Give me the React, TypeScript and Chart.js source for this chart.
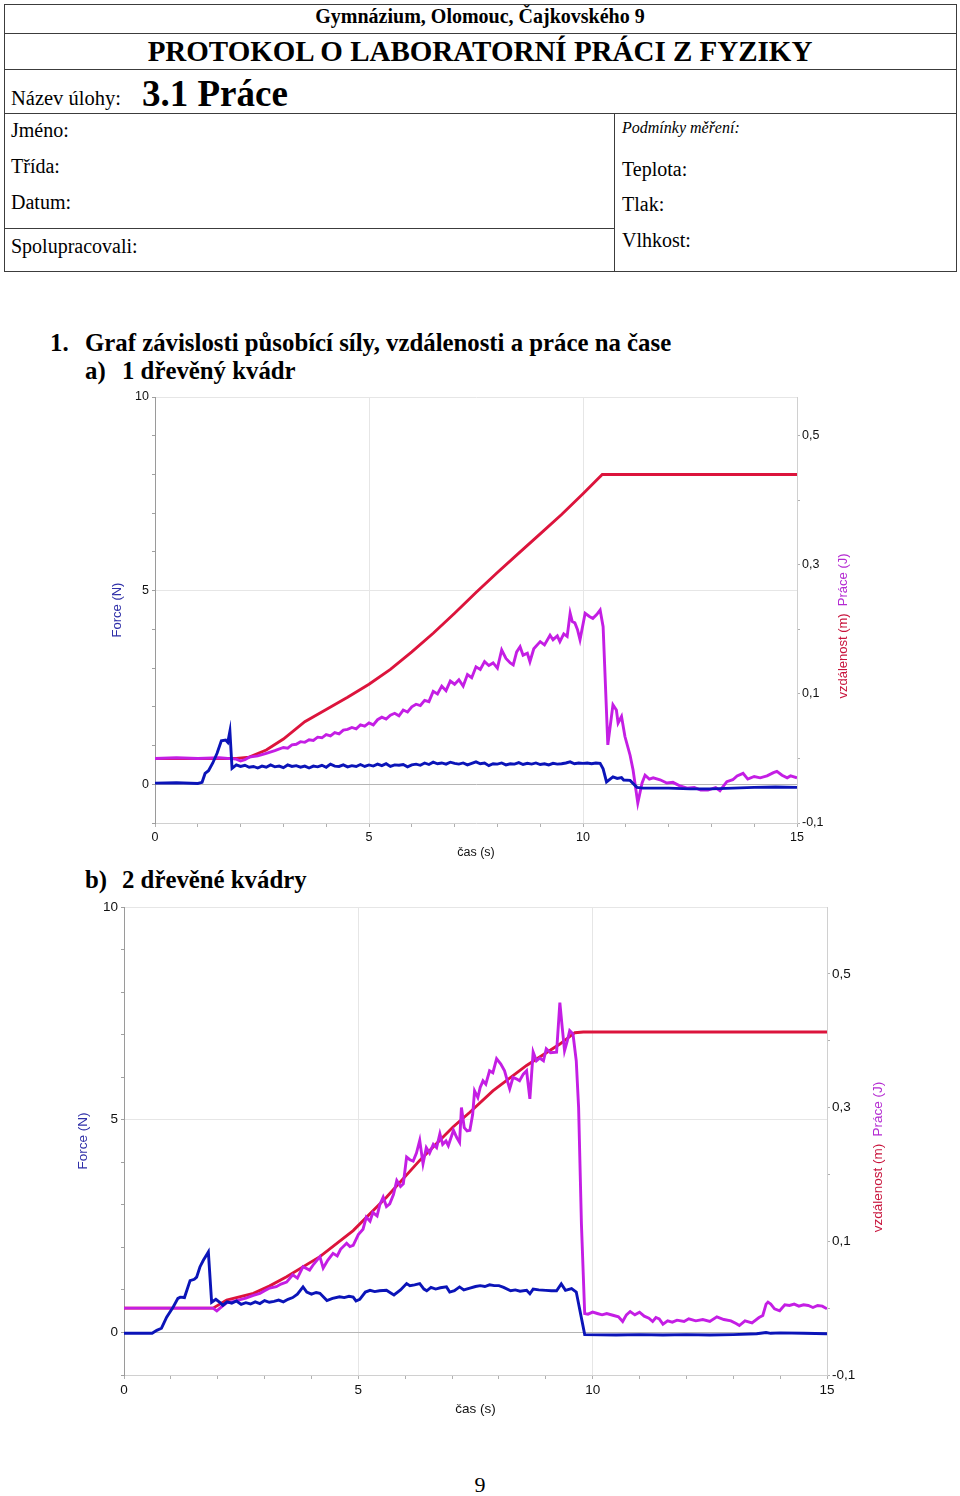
import React, { useEffect, useRef } from "react";
import { Chart, registerables } from "chart.js";

Chart.register(...registerables);
Chart.defaults.font.family = '"Liberation Sans", Arial, sans-serif';

type Pt = [number, number];

// ---- axis ticks ----
const TIME_TICKS = [0, 1, 2, 3, 4, 5, 6, 7, 8, 9, 10, 11, 12, 13, 14, 15];
const TIME_LABELED = [0, 5, 10, 15];
const FORCE_TICKS = [-1, 0, 1, 2, 3, 4, 5, 6, 7, 8, 9, 10];
const FORCE_LABELED = [0, 5, 10];
const RIGHT_TICKS = [-0.1, 0, 0.1, 0.2, 0.3, 0.4, 0.5];
const RIGHT_LABELS = ["-0,1", "", "0,1", "", "0,3", "", "0,5"];

// ---- chart a) 1 dřevěný kvádr ----
const A_FORCE: Pt[] = [
  [0, 0.03], [0.5, 0.04], [1.0, 0.02], [1.1, 0.05], [1.17, 0.28], [1.25, 0.35], [1.35, 0.55], [1.45, 0.8],
  [1.55, 1.12], [1.65, 1.14], [1.7, 1.08], [1.75, 1.37], [1.8, 0.41], [1.9, 0.5], [2.0, 0.46], [2.1, 0.49],
  [2.2, 0.44], [2.3, 0.46], [2.4, 0.42], [2.5, 0.47], [2.6, 0.44], [2.7, 0.5], [2.8, 0.45], [2.9, 0.47],
  [3.0, 0.43], [3.1, 0.5], [3.2, 0.46], [3.3, 0.48], [3.4, 0.44], [3.5, 0.47], [3.6, 0.42], [3.7, 0.47],
  [3.8, 0.45], [3.9, 0.49], [4.0, 0.44], [4.1, 0.52], [4.2, 0.47], [4.3, 0.46], [4.4, 0.5], [4.5, 0.45],
  [4.6, 0.48], [4.7, 0.46], [4.8, 0.51], [4.9, 0.46], [5.0, 0.5], [5.1, 0.47], [5.2, 0.52], [5.3, 0.48],
  [5.4, 0.53], [5.5, 0.46], [5.6, 0.5], [5.7, 0.49], [5.8, 0.51], [5.9, 0.45], [6.0, 0.5], [6.1, 0.52],
  [6.2, 0.49], [6.3, 0.55], [6.4, 0.51], [6.5, 0.57], [6.6, 0.53], [6.7, 0.55], [6.8, 0.52], [6.9, 0.57],
  [7.0, 0.54], [7.1, 0.52], [7.2, 0.55], [7.3, 0.5], [7.4, 0.54], [7.5, 0.58], [7.6, 0.53], [7.7, 0.55],
  [7.8, 0.48], [7.9, 0.53], [8.0, 0.52], [8.1, 0.55], [8.2, 0.5], [8.3, 0.53], [8.4, 0.52], [8.5, 0.56],
  [8.6, 0.51], [8.7, 0.54], [8.8, 0.52], [8.9, 0.55], [9.0, 0.51], [9.1, 0.53], [9.2, 0.5], [9.3, 0.54],
  [9.4, 0.52], [9.5, 0.53], [9.6, 0.55], [9.7, 0.58], [9.8, 0.53], [9.9, 0.55], [10.0, 0.54], [10.1, 0.55],
  [10.2, 0.53], [10.3, 0.55], [10.4, 0.54], [10.47, 0.4], [10.55, 0.06], [10.7, 0.19], [10.8, 0.15],
  [10.9, 0.17], [10.95, 0.11], [11.1, 0.1], [11.26, -0.08], [11.4, -0.1], [12.0, -0.1], [12.5, -0.12],
  [13.0, -0.12], [13.5, -0.1], [14.0, -0.08], [14.5, -0.07], [15.0, -0.08],
];

const A_DIST: Pt[] = [
  [0, 0], [1.9, 0], [2.2, 0.002], [2.6, 0.013], [3.0, 0.03], [3.5, 0.057], [4.0, 0.076], [4.5, 0.095],
  [5.0, 0.115], [5.5, 0.138], [6.0, 0.165], [6.5, 0.194], [7.0, 0.225], [7.5, 0.257], [8.0, 0.288],
  [8.5, 0.318], [9.0, 0.348], [9.5, 0.378], [10.0, 0.41], [10.45, 0.44], [15, 0.44],
];

const A_WORK: Pt[] = [
  [0, 0], [0.5, 0.001], [1.0, 0], [1.5, 0.001], [1.9, -0.001], [2.0, -0.004], [2.1, -0.002], [2.2, 0.002],
  [2.4, 0.004], [2.6, 0.008], [2.8, 0.012], [3.0, 0.017], [3.1, 0.016], [3.2, 0.021], [3.3, 0.022],
  [3.4, 0.026], [3.5, 0.025], [3.6, 0.029], [3.7, 0.028], [3.8, 0.033], [3.9, 0.032], [4.0, 0.037],
  [4.1, 0.035], [4.2, 0.04], [4.3, 0.038], [4.4, 0.044], [4.5, 0.045], [4.6, 0.048], [4.7, 0.046],
  [4.8, 0.052], [4.9, 0.05], [5.0, 0.055], [5.1, 0.052], [5.2, 0.06], [5.3, 0.064], [5.4, 0.061],
  [5.5, 0.067], [5.6, 0.07], [5.7, 0.066], [5.8, 0.075], [5.9, 0.072], [6.0, 0.08], [6.1, 0.084],
  [6.2, 0.082], [6.3, 0.09], [6.4, 0.088], [6.5, 0.104], [6.6, 0.1], [6.7, 0.112], [6.8, 0.105],
  [6.9, 0.12], [7.0, 0.115], [7.1, 0.122], [7.2, 0.112], [7.3, 0.13], [7.4, 0.125], [7.5, 0.142],
  [7.6, 0.138], [7.7, 0.15], [7.8, 0.144], [7.9, 0.148], [8.0, 0.14], [8.1, 0.168], [8.2, 0.155],
  [8.3, 0.148], [8.37, 0.145], [8.45, 0.165], [8.53, 0.173], [8.6, 0.16], [8.7, 0.163], [8.76, 0.15],
  [8.85, 0.17], [9.0, 0.181], [9.1, 0.176], [9.23, 0.191], [9.3, 0.184], [9.4, 0.19], [9.46, 0.181],
  [9.55, 0.193], [9.63, 0.189], [9.7, 0.225], [9.75, 0.212], [9.81, 0.21], [9.87, 0.2], [9.93, 0.184],
  [10.05, 0.225], [10.15, 0.22], [10.23, 0.217], [10.32, 0.223], [10.4, 0.23], [10.47, 0.204],
  [10.58, 0.021], [10.7, 0.083], [10.78, 0.075], [10.82, 0.055], [10.9, 0.065], [10.98, 0.034],
  [11.1, 0.005], [11.17, -0.018], [11.28, -0.069], [11.38, -0.038], [11.45, -0.026], [11.55, -0.032],
  [11.64, -0.03], [11.8, -0.033], [11.96, -0.038], [12.1, -0.037], [12.25, -0.042], [12.43, -0.046],
  [12.6, -0.045], [12.75, -0.049], [12.92, -0.049], [13.1, -0.045], [13.2, -0.05], [13.36, -0.036],
  [13.5, -0.033], [13.6, -0.027], [13.74, -0.023], [13.85, -0.032], [14.0, -0.028], [14.14, -0.03],
  [14.3, -0.027], [14.45, -0.022], [14.53, -0.02], [14.65, -0.026], [14.77, -0.03], [14.85, -0.027],
  [15.0, -0.03],
];

// ---- chart b) 2 dřevěné kvádry ----
const B_FORCE: Pt[] = [
  [0, -0.02], [0.6, -0.02], [0.7, 0.05], [0.8, 0.1], [0.91, 0.36], [1.05, 0.6], [1.15, 0.8], [1.2, 0.83],
  [1.29, 0.82], [1.41, 1.22], [1.5, 1.25], [1.55, 1.3], [1.62, 1.54], [1.69, 1.69], [1.8, 1.89],
  [1.87, 0.71], [1.96, 0.78], [2.05, 0.7], [2.11, 0.64], [2.2, 0.72], [2.3, 0.69], [2.4, 0.74],
  [2.5, 0.66], [2.6, 0.7], [2.7, 0.67], [2.8, 0.72], [2.9, 0.68], [3.0, 0.75], [3.1, 0.71], [3.2, 0.73],
  [3.3, 0.76], [3.4, 0.72], [3.5, 0.78], [3.6, 0.82], [3.7, 0.9], [3.82, 1.07], [3.9, 0.95], [4.0, 0.9],
  [4.1, 0.94], [4.18, 0.92], [4.33, 0.75], [4.45, 0.8], [4.6, 0.84], [4.7, 0.82], [4.8, 0.85],
  [4.89, 0.83], [4.95, 0.74], [5.03, 0.78], [5.15, 0.95], [5.25, 0.99], [5.35, 0.96], [5.45, 0.98],
  [5.6, 0.99], [5.7, 0.92], [5.76, 0.88], [5.9, 1.0], [6.03, 1.15], [6.1, 1.1], [6.2, 1.12], [6.31, 1.15],
  [6.4, 1.02], [6.46, 0.98], [6.55, 1.06], [6.65, 1.02], [6.75, 1.05], [6.88, 1.07], [6.95, 0.95],
  [7.05, 0.98], [7.16, 1.07], [7.25, 1.0], [7.38, 1.04], [7.5, 1.08], [7.6, 1.1], [7.7, 1.08], [7.8, 1.12],
  [7.9, 1.1], [8.0, 1.1], [8.1, 1.06], [8.25, 0.98], [8.35, 1.0], [8.45, 0.97], [8.59, 0.99], [8.66, 0.91],
  [8.73, 1.02], [8.85, 1.0], [9.0, 0.99], [9.12, 0.98], [9.23, 0.98], [9.33, 1.14], [9.42, 0.99],
  [9.55, 1.03], [9.65, 0.95], [9.83, -0.05], [10.5, -0.06], [11.0, -0.05], [11.5, -0.06], [12.0, -0.05],
  [12.5, -0.06], [13.0, -0.05], [13.5, -0.03], [13.7, 0.0], [13.8, -0.02], [14.0, -0.01], [14.5, -0.02],
  [15, -0.03],
];

const B_DIST: Pt[] = [
  [0, 0], [1.9, 0], [2.19, 0.012], [2.76, 0.022], [3.1, 0.033], [3.47, 0.047], [4.18, 0.077],
  [4.89, 0.116], [5.6, 0.166], [6.31, 0.221], [7.02, 0.271], [7.38, 0.293], [7.87, 0.325], [8.59, 0.363],
  [9.3, 0.395], [9.62, 0.412], [9.8, 0.413], [15, 0.413],
];

const B_WORK: Pt[] = [
  [0, 0], [1.9, 0], [1.98, -0.004], [2.1, 0.003], [2.19, 0.008], [2.35, 0.01], [2.5, 0.013], [2.6, 0.015],
  [2.76, 0.019], [2.9, 0.022], [3.0, 0.026], [3.11, 0.03], [3.25, 0.032], [3.35, 0.036], [3.47, 0.039],
  [3.6, 0.05], [3.7, 0.045], [3.82, 0.062], [3.96, 0.057], [4.05, 0.066], [4.18, 0.077], [4.25, 0.06],
  [4.35, 0.072], [4.46, 0.082], [4.55, 0.078], [4.62, 0.088], [4.75, 0.097], [4.82, 0.092], [4.89, 0.094],
  [5.0, 0.11], [5.1, 0.118], [5.17, 0.136], [5.25, 0.13], [5.31, 0.143], [5.4, 0.138], [5.46, 0.155],
  [5.53, 0.166], [5.6, 0.152], [5.67, 0.156], [5.75, 0.17], [5.82, 0.191], [5.9, 0.182], [5.96, 0.186],
  [6.03, 0.226], [6.1, 0.222], [6.17, 0.22], [6.24, 0.232], [6.31, 0.251], [6.38, 0.216], [6.45, 0.24],
  [6.52, 0.232], [6.6, 0.245], [6.67, 0.24], [6.74, 0.261], [6.8, 0.245], [6.87, 0.25], [6.92, 0.243],
  [7.03, 0.266], [7.1, 0.255], [7.16, 0.248], [7.2, 0.3], [7.26, 0.27], [7.32, 0.265], [7.38, 0.266],
  [7.44, 0.29], [7.48, 0.325], [7.55, 0.315], [7.6, 0.33], [7.66, 0.34], [7.72, 0.335], [7.8, 0.355],
  [7.87, 0.352], [7.95, 0.373], [8.04, 0.365], [8.12, 0.355], [8.18, 0.34], [8.23, 0.328], [8.3, 0.345],
  [8.37, 0.343], [8.44, 0.34], [8.52, 0.35], [8.59, 0.355], [8.66, 0.313], [8.73, 0.383], [8.8, 0.37],
  [8.87, 0.374], [8.95, 0.37], [9.01, 0.388], [9.1, 0.382], [9.23, 0.383], [9.3, 0.457], [9.35, 0.42],
  [9.4, 0.385], [9.46, 0.4], [9.51, 0.415], [9.58, 0.41], [9.65, 0.37], [9.7, 0.3], [9.76, 0.126],
  [9.83, -0.008], [9.9, -0.009], [10.0, -0.006], [10.1, -0.008], [10.2, -0.01], [10.3, -0.008],
  [10.45, -0.011], [10.55, -0.013], [10.64, -0.02], [10.72, -0.01], [10.8, -0.005], [10.9, -0.01],
  [11.0, -0.006], [11.1, -0.012], [11.2, -0.015], [11.28, -0.02], [11.35, -0.014], [11.42, -0.016],
  [11.5, -0.024], [11.6, -0.019], [11.7, -0.021], [11.8, -0.018], [11.95, -0.02], [12.05, -0.016],
  [12.2, -0.019], [12.35, -0.017], [12.5, -0.02], [12.65, -0.013], [12.8, -0.017], [12.95, -0.019],
  [13.06, -0.023], [13.13, -0.026], [13.25, -0.019], [13.4, -0.022], [13.55, -0.014], [13.63, -0.011],
  [13.7, 0.006], [13.74, 0.009], [13.8, 0.006], [13.88, -0.001], [13.99, -0.004], [14.1, 0.005],
  [14.2, 0.004], [14.3, 0.006], [14.4, 0.003], [14.5, 0.005], [14.6, 0.004], [14.7, 0.001], [14.8, 0.004],
  [14.9, 0.003], [15, -0.001],
];

const BLUE = "#0b14b8";
const RED = "#dc143c";
const PURPLE = "#c41ee4";

const rightTitlePlugin = {
  id: "rightTitle",
  afterDraw(chart: any, _args: any, opts: any) {
    const { ctx, chartArea } = chart;
    ctx.save();
    ctx.font = `${opts.size}px "Liberation Sans", Arial, sans-serif`;
    const parts = opts.parts as { text: string; color: string }[];
    const widths = parts.map((p) => ctx.measureText(p.text).width);
    const gap = opts.gap;
    const total = widths.reduce((a: number, b: number) => a + b, 0) + gap * (parts.length - 1);
    ctx.translate(chartArea.right + opts.dx, (chartArea.top + chartArea.bottom) / 2 + opts.dy);
    ctx.rotate(-Math.PI / 2);
    ctx.textBaseline = "middle";
    ctx.textAlign = "left";
    let x = -total / 2;
    parts.forEach((p, i) => {
      ctx.fillStyle = p.color;
      ctx.fillText(p.text, x, 0);
      x += widths[i] + gap;
    });
    ctx.restore();
  },
};

type Cfg = {
  force: Pt[];
  dist: Pt[];
  work: Pt[];
  rightMax: number;
  leftW: number;
  rightW: number;
  bottomH: number;
  padTop: number;
  tickSize: number;
  titleSize: number;
  xTitleSize: number;
  forceTitlePad: number;
  xTitlePad: number;
  rtDx: number;
  rtDy: number;
};

function buildConfig(c: Cfg): any {
  const toXY = (arr: Pt[]) => arr.map(([x, y]) => ({ x, y }));
  const line = (data: Pt[], color: string, axis: string) => ({
    data: toXY(data),
    yAxisID: axis,
    borderColor: color,
    borderWidth: 2.9,
    pointRadius: 0,
    tension: 0,
    fill: false,
  });
  return {
    type: "line",
    data: {
      datasets: [
        line(c.force, BLUE, "y"),
        line(c.work, PURPLE, "yR"),
        line(c.dist, RED, "yR"),
      ],
    },
    plugins: [rightTitlePlugin],
    options: {
      animation: false,
      responsive: false,
      events: [],
      layout: { padding: { top: c.padTop, left: 0, right: 0, bottom: 0 } },
      plugins: {
        legend: { display: false },
        tooltip: { enabled: false },
        rightTitle: {
          size: c.titleSize,
          gap: c.titleSize * 0.55,
          dx: c.rtDx,
          dy: c.rtDy,
          parts: [
            { text: "vzdálenost (m)", color: "#c8143c" },
            { text: "Práce (J)", color: "#b42ad2" },
          ],
        },
      },
      scales: {
        x: {
          type: "linear",
          min: 0,
          max: 15,
          afterBuildTicks: (s: any) => {
            s.ticks = TIME_TICKS.map((v) => ({ value: v }));
          },
          afterFit: (s: any) => {
            s.height = c.bottomH;
          },
          ticks: {
            autoSkip: false,
            maxRotation: 0,
            padding: 3,
            color: "#111",
            font: { size: c.tickSize },
            callback: (v: number) => (TIME_LABELED.includes(v) ? String(v) : ""),
          },
          grid: {
            color: (ctx: any) =>
              ctx.tick && (ctx.tick.value === 5 || ctx.tick.value === 10) ? "#e6e6e6" : "rgba(0,0,0,0)",
            tickColor: "#b0b0b0",
            tickLength: 4,
            lineWidth: 1,
          },
          border: { color: "#d0d0d0", width: 1 },
          title: {
            display: true,
            text: "čas (s)",
            color: "#111",
            font: { size: c.xTitleSize },
            padding: { top: 0, bottom: c.xTitlePad },
          },
        },
        y: {
          type: "linear",
          position: "left",
          min: -1,
          max: 10,
          afterBuildTicks: (s: any) => {
            s.ticks = FORCE_TICKS.map((v) => ({ value: v }));
          },
          afterFit: (s: any) => {
            s.width = c.leftW;
          },
          ticks: {
            autoSkip: false,
            padding: 3,
            color: "#111",
            font: { size: c.tickSize },
            callback: (v: number) => (FORCE_LABELED.includes(v) ? String(v) : ""),
          },
          grid: {
            color: (ctx: any) => {
              if (!ctx.tick) return "rgba(0,0,0,0)";
              const v = ctx.tick.value;
              if (v === 0) return "#b4b4b4";
              if (v === 5 || v === 10) return "#e6e6e6";
              return "rgba(0,0,0,0)";
            },
            tickColor: "#a0a0a0",
            tickLength: 3,
          },
          border: { color: "#9a9a9a", width: 1 },
          title: {
            display: true,
            text: "Force (N)",
            color: "#2f2fa8",
            font: { size: c.titleSize },
            padding: { top: c.forceTitlePad, bottom: 0 },
          },
        },
        yR: {
          type: "linear",
          position: "right",
          min: -0.1,
          max: c.rightMax,
          afterBuildTicks: (s: any) => {
            s.ticks = RIGHT_TICKS.map((v) => ({ value: v }));
          },
          afterFit: (s: any) => {
            s.width = c.rightW;
          },
          ticks: {
            autoSkip: false,
            padding: 2,
            color: "#111",
            font: { size: c.tickSize },
            callback: (_v: number, i: number) => RIGHT_LABELS[i] ?? "",
          },
          grid: {
            drawOnChartArea: false,
            tickColor: "#b0b0b0",
            tickLength: 3,
          },
          border: { color: "#d0d0d0", width: 1 },
        },
      },
    },
  };
}

function ChartCanvas(props: { cfg: Cfg; left: number; top: number; width: number; height: number }) {
  const ref = useRef<HTMLCanvasElement | null>(null);
  useEffect(() => {
    if (!ref.current) return;
    const chart = new Chart(ref.current, buildConfig(props.cfg));
    return () => chart.destroy();
  }, []);
  return (
    <canvas
      ref={ref}
      width={props.width}
      height={props.height}
      style={{ position: "absolute", left: props.left, top: props.top, width: props.width, height: props.height }}
    />
  );
}

const CFG_A: Cfg = {
  force: A_FORCE,
  dist: A_DIST,
  work: A_WORK,
  rightMax: 0.56,
  leftW: 59,
  rightW: 73,
  bottomH: 47,
  padTop: 12,
  tickSize: 12.5,
  titleSize: 13,
  xTitleSize: 12.5,
  forceTitlePad: 14,
  xTitlePad: 10,
  rtDx: 46,
  rtDy: 16,
};

const CFG_B: Cfg = {
  force: B_FORCE,
  dist: B_DIST,
  work: B_WORK,
  rightMax: 0.6,
  leftW: 64,
  rightW: 73,
  bottomH: 60,
  padTop: 12,
  tickSize: 13.5,
  titleSize: 13.5,
  xTitleSize: 13.5,
  forceTitlePad: 15,
  xTitlePad: 18,
  rtDx: 51,
  rtDy: 16,
};

const LINE = "#3c3c3c";
const serif = '"Liberation Serif", "Times New Roman", serif';

function Txt(props: { x?: number; y: number; size: number; bold?: boolean; italic?: boolean; center?: boolean; children: any }) {
  const st: any = {
    position: "absolute",
    top: props.y,
    fontSize: props.size,
    lineHeight: 1,
    fontWeight: props.bold ? 700 : 400,
    fontStyle: props.italic ? "italic" : "normal",
    whiteSpace: "nowrap",
    color: "#000",
  };
  if (props.center) {
    st.left = 4;
    st.width = 952;
    st.textAlign = "center";
  } else {
    st.left = props.x;
  }
  return <div style={st}>{props.children}</div>;
}

function HLine(props: { x: number; y: number; w: number }) {
  return <div style={{ position: "absolute", left: props.x, top: props.y, width: props.w, height: 1, background: LINE }} />;
}
function VLine(props: { x: number; y: number; h: number }) {
  return <div style={{ position: "absolute", left: props.x, top: props.y, width: 1, height: props.h, background: LINE }} />;
}

export default function App() {
  return (
    <div
      style={{
        position: "absolute",
        left: 0,
        top: 0,
        width: 960,
        height: 1496,
        background: "#fff",
        fontFamily: serif,
        overflow: "hidden",
      }}
    >
      {/* header table */}
      <div style={{ position: "absolute", left: 4, top: 4, width: 951, height: 266, border: `1px solid ${LINE}` }} />
      <HLine x={4} y={33} w={952} />
      <HLine x={4} y={69} w={952} />
      <HLine x={4} y={113} w={952} />
      <VLine x={614} y={113} h={158} />
      <HLine x={4} y={228} w={610} />

      <Txt center y={6} size={20} bold>Gymnázium, Olomouc, Čajkovského 9</Txt>
      <Txt center y={37} size={29} bold>PROTOKOL O LABORATORNÍ PRÁCI Z FYZIKY</Txt>
      <Txt x={11} y={88} size={20.5}>Název úlohy:</Txt>
      <Txt x={142} y={75} size={37} bold>3.1 Práce</Txt>

      <Txt x={11} y={120} size={20}>Jméno:</Txt>
      <Txt x={11} y={156} size={20}>Třída:</Txt>
      <Txt x={11} y={192} size={20}>Datum:</Txt>
      <Txt x={11} y={236} size={20}>Spolupracovali:</Txt>
      <Txt x={622} y={120} size={16} italic>Podmínky měření:</Txt>
      <Txt x={622} y={159} size={20}>Teplota:</Txt>
      <Txt x={622} y={194} size={20}>Tlak:</Txt>
      <Txt x={622} y={230} size={20}>Vlhkost:</Txt>

      {/* section headings */}
      <Txt x={50} y={331} size={24.8} bold>1.</Txt>
      <Txt x={85} y={331} size={24.8} bold>Graf závislosti působící síly, vzdálenosti a práce na čase</Txt>
      <Txt x={85} y={359} size={24.8} bold>a)</Txt>
      <Txt x={122} y={359} size={24.8} bold>1 dřevěný kvádr</Txt>
      <Txt x={85} y={868} size={24.8} bold>b)</Txt>
      <Txt x={122} y={868} size={24.8} bold>2 dřevěné kvádry</Txt>

      <ChartCanvas cfg={CFG_A} left={96} top={385} width={774} height={485} />
      <ChartCanvas cfg={CFG_B} left={60} top={895} width={840} height={540} />

      <Txt center y={1474} size={22}>9</Txt>
    </div>
  );
}
